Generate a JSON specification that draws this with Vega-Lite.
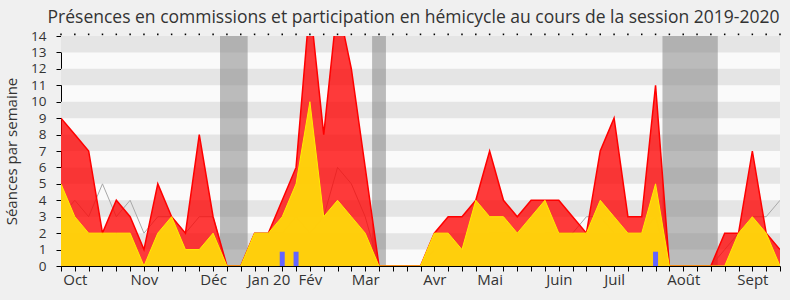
{
  "$schema": "https://vega.github.io/schema/vega-lite/v6.json",
  "width": 719,
  "height": 230,
  "autosize": {"type": "none"},
  "padding": {"left": 61, "top": 36, "right": 10, "bottom": 34},
  "background": "#f0f0f0",
  "title": {
    "text": "Présences en commissions et participation en hémicycle au cours de la session 2019-2020",
    "font": "Open Sans",
    "fontSize": 17.5,
    "fontWeight": "normal",
    "color": "#333333",
    "anchor": "middle",
    "dx": -7,
    "offset": 3
  },
  "config": {
    "view": {"fill": "#fafafa", "stroke": null},
    "axis": {
      "domainColor": "#000000",
      "tickColor": "#000000",
      "labelFont": "Open Sans",
      "labelFontSize": 15,
      "labelColor": "#333333",
      "titleFont": "Open Sans",
      "titleFontSize": 15,
      "titleFontWeight": "normal",
      "titleColor": "#333333",
      "grid": false
    },
    "axisY": {"labelFontSize": 13.5}
  },
  "datasets": {
    "weeks": [
      {"w": 0, "pres": 9, "hemi": 5, "med": 3},
      {"w": 1, "pres": 8, "hemi": 3, "med": 4},
      {"w": 2, "pres": 7, "hemi": 2, "med": 3},
      {"w": 3, "pres": 2, "hemi": 2, "med": 5},
      {"w": 4, "pres": 4, "hemi": 2, "med": 3},
      {"w": 5, "pres": 3, "hemi": 2, "med": 4},
      {"w": 6, "pres": 1, "hemi": 0, "med": 2},
      {"w": 7, "pres": 5, "hemi": 2, "med": 3},
      {"w": 8, "pres": 3, "hemi": 3, "med": 3},
      {"w": 9, "pres": 2, "hemi": 1, "med": 2},
      {"w": 10, "pres": 8, "hemi": 1, "med": 3},
      {"w": 11, "pres": 3, "hemi": 2, "med": 3},
      {"w": 12, "pres": 0, "hemi": 0, "med": 0},
      {"w": 13, "pres": 0, "hemi": 0, "med": 0},
      {"w": 14, "pres": 2, "hemi": 2, "med": 2},
      {"w": 15, "pres": 2, "hemi": 2, "med": 2},
      {"w": 16, "pres": 4, "hemi": 3, "med": 2, "q": 0.87},
      {"w": 17, "pres": 6, "hemi": 5, "med": 3, "q": 0.87},
      {"w": 18, "pres": 16, "hemi": 10, "med": 2},
      {"w": 19, "pres": 8, "hemi": 3, "med": 3},
      {"w": 20, "pres": 16, "hemi": 4, "med": 6},
      {"w": 21, "pres": 12, "hemi": 3, "med": 5},
      {"w": 22, "pres": 6, "hemi": 2, "med": 3},
      {"w": 23, "pres": 0, "hemi": 0, "med": 0},
      {"w": 24, "pres": 0, "hemi": 0, "med": 0},
      {"w": 25, "pres": 0, "hemi": 0, "med": 0},
      {"w": 26, "pres": 0, "hemi": 0, "med": 0},
      {"w": 27, "pres": 2, "hemi": 2, "med": 1},
      {"w": 28, "pres": 3, "hemi": 2, "med": 1},
      {"w": 29, "pres": 3, "hemi": 1, "med": 1},
      {"w": 30, "pres": 4, "hemi": 4, "med": 1},
      {"w": 31, "pres": 7, "hemi": 3, "med": 2},
      {"w": 32, "pres": 4, "hemi": 3, "med": 2},
      {"w": 33, "pres": 3, "hemi": 2, "med": 2},
      {"w": 34, "pres": 4, "hemi": 3, "med": 1},
      {"w": 35, "pres": 4, "hemi": 4, "med": 2},
      {"w": 36, "pres": 4, "hemi": 2, "med": 2},
      {"w": 37, "pres": 3, "hemi": 2, "med": 2},
      {"w": 38, "pres": 2, "hemi": 2, "med": 3},
      {"w": 39, "pres": 7, "hemi": 4, "med": 3},
      {"w": 40, "pres": 9, "hemi": 3, "med": 2},
      {"w": 41, "pres": 3, "hemi": 2, "med": 1},
      {"w": 42, "pres": 3, "hemi": 2, "med": 2},
      {"w": 43, "pres": 11, "hemi": 5, "med": 3, "q": 0.87},
      {"w": 44, "pres": 0, "hemi": 0, "med": 0},
      {"w": 45, "pres": 0, "hemi": 0, "med": 0},
      {"w": 46, "pres": 0, "hemi": 0, "med": 0},
      {"w": 47, "pres": 0, "hemi": 0, "med": 0},
      {"w": 48, "pres": 2, "hemi": 0, "med": 1},
      {"w": 49, "pres": 2, "hemi": 2, "med": 2},
      {"w": 50, "pres": 7, "hemi": 3, "med": 3},
      {"w": 51, "pres": 2, "hemi": 2, "med": 3},
      {"w": 52, "pres": 1, "hemi": 0, "med": 4}
    ],
    "stripes": [
      {"lo": 1, "hi": 2}, {"lo": 3, "hi": 4}, {"lo": 5, "hi": 6}, {"lo": 7, "hi": 8},
      {"lo": 9, "hi": 10}, {"lo": 11, "hi": 12}, {"lo": 13, "hi": 14}
    ],
    "vacances": [
      {"a": 11.5, "b": 13.5},
      {"a": 22.5, "b": 23.5},
      {"a": 43.5, "b": 47.5}
    ]
  },
  "encoding": {
    "y": {"type": "quantitative", "scale": {"domain": [0, 14], "nice": false, "zero": true},
      "axis": {"orient": "left", "values": [0,1,2,3,4,5,6,7,8,9,10,11,12,13,14], "tickSize": 5, "labelPadding": 10, "labelOverlap": false, "title": "Séances par semaine", "titlePadding": 11}},
    "x": {"type": "quantitative", "scale": {"domain": [0, 52], "nice": false, "zero": false, "padding": 0},
      "axis": {"orient": "bottom", "values": [0,1,2,3,4,5,6,7,8,9,10,11,12,13,14,15,16,17,18,19,20,21,22,23,24,25,26,27,28,29,30,31,32,33,34,35,36,37,38,39,40,41,42,43,44,45,46,47,48,49,50,51,52],
        "tickSize": 5, "labelPadding": 1, "labelOverlap": false, "labelFlush": false, "title": null,
        "labelExpr": "datum.value==1?'Oct':datum.value==6?'Nov':datum.value==11?'Déc':datum.value==15?'Jan 20':datum.value==18?'Fév':datum.value==22?'Mar':datum.value==27?'Avr':datum.value==31?'Mai':datum.value==36?'Juin':datum.value==40?'Juil':datum.value==45?'Août':datum.value==50?'Sept':''"}}
  },
  "layer": [
    {
      "data": {"name": "stripes"},
      "mark": {"type": "rect", "color": "#e5e5e5"},
      "encoding": {
        "y": {"field": "lo", "type": "quantitative", "title": "Séances par semaine"},
        "y2": {"field": "hi"}
      }
    },
    {
      "data": {"name": "vacances"},
      "mark": {"type": "rect", "color": "#808080", "opacity": 0.52},
      "encoding": {
        "x": {"field": "a", "type": "quantitative", "title": null},
        "x2": {"field": "b"}
      }
    },
    {
      "data": {"name": "weeks"},
      "mark": {"type": "rule", "color": "#000000", "strokeWidth": 1.5, "clip": false},
      "encoding": {
        "x": {"field": "w", "type": "quantitative", "title": null},
        "y": {"datum": 14.05, "type": "quantitative", "title": "Séances par semaine"},
        "y2": {"datum": 14.15}
      }
    },
    {
      "data": {"name": "weeks"},
      "mark": {"type": "line", "color": "#a8a8a8", "strokeWidth": 1, "clip": true},
      "encoding": {
        "x": {"field": "w", "type": "quantitative", "title": null},
        "y": {"field": "med", "type": "quantitative", "title": "Séances par semaine"}
      }
    },
    {
      "data": {"name": "weeks"},
      "mark": {"type": "area", "color": "#ff0000", "opacity": 0.77, "clip": true},
      "encoding": {
        "x": {"field": "w", "type": "quantitative", "title": null},
        "y": {"field": "pres", "type": "quantitative", "title": "Séances par semaine", "stack": null}
      }
    },
    {
      "data": {"name": "weeks"},
      "mark": {"type": "line", "color": "#ff0000", "strokeWidth": 1.5, "clip": true},
      "encoding": {
        "x": {"field": "w", "type": "quantitative", "title": null},
        "y": {"field": "pres", "type": "quantitative", "title": "Séances par semaine"}
      }
    },
    {
      "data": {"name": "weeks"},
      "mark": {"type": "area", "color": "#ffd40a", "opacity": 0.97, "clip": true},
      "encoding": {
        "x": {"field": "w", "type": "quantitative", "title": null},
        "y": {"field": "hemi", "type": "quantitative", "title": "Séances par semaine", "stack": null}
      }
    },
    {
      "data": {"name": "weeks"},
      "mark": {"type": "line", "color": "#ffee00", "strokeWidth": 1, "clip": true},
      "encoding": {
        "x": {"field": "w", "type": "quantitative", "title": null},
        "y": {"field": "hemi", "type": "quantitative", "title": "Séances par semaine"}
      }
    },
    {
      "data": {"name": "weeks"},
      "transform": [{"filter": "datum.q > 0"}],
      "mark": {"type": "bar", "color": "#6464ff", "size": 5, "opacity": 1},
      "encoding": {
        "x": {"field": "w", "type": "quantitative", "title": null},
        "y": {"field": "q", "type": "quantitative", "title": "Séances par semaine", "stack": null}
      }
    }
  ]
}
